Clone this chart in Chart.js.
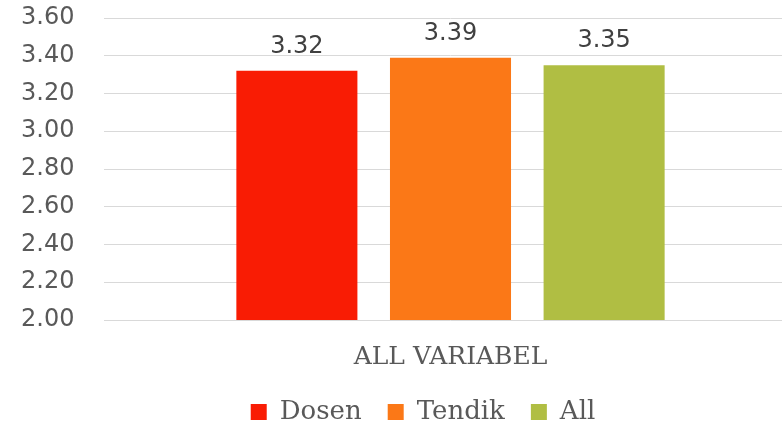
<!DOCTYPE html>
<html>
<head>
<meta charset="utf-8">
<script src="https://cdn.jsdelivr.net/npm/chart.js@4.4.0/dist/chart.umd.min.js"></script>
<style>
  html, body { margin: 0; padding: 0; overflow: hidden; background: #fff; }
  #wrap { width: 797px; height: 435px; }
</style>
</head>
<body>
<div id="wrap"><canvas id="chart"></canvas></div>
<script>
// Category and series values
const categories = ['ALL VARIABEL'];
const seriesNames = ['Dosen', 'Tendik', 'All'];
const dosenValues = [3.32];
const tendikValues = [3.39];
const allValues = [3.35];
const yTickValues = [2.0, 2.2, 2.4, 2.6, 2.8, 3.0, 3.2, 3.4, 3.6];

const seriesColors = ['#F91C04', '#FB7817', '#B0BE43'];

const textColor = '#595959';
const sansFont = '"DejaVu Sans", sans-serif';
const serifFont = '"DejaVu Serif", serif';

// Draw the value above each bar
const valueLabels = {
  id: 'valueLabels',
  afterDatasetsDraw(chart) {
    const ctx = chart.ctx;
    ctx.save();
    ctx.font = '24px ' + sansFont;
    ctx.fillStyle = '#404040';
    ctx.textAlign = 'center';
    ctx.textBaseline = 'alphabetic';
    chart.data.datasets.forEach((ds, i) => {
      chart.getDatasetMeta(i).data.forEach((bar, j) => {
        ctx.fillText(ds.data[j].toFixed(2), bar.x, bar.y - 18);
      });
    });
    ctx.restore();
  }
};

// Nudge the legend a bit to the right, like the original
const legendShift = {
  id: 'legendShift',
  afterLayout(chart) {
    chart.legend.left += 14;
    chart.legend.right += 14;
  }
};

new Chart(document.getElementById('chart'), {
  type: 'bar',
  data: {
    labels: categories,
    datasets: [
      { label: seriesNames[0], data: dosenValues, backgroundColor: seriesColors[0] },
      { label: seriesNames[1], data: tendikValues, backgroundColor: seriesColors[1] },
      { label: seriesNames[2], data: allValues, backgroundColor: seriesColors[2] },
    ],
  },
  options: {
    responsive: true,
    maintainAspectRatio: false,
    animation: false,
    layout: { padding: { top: 18, left: 21 } },
    datasets: {
      bar: { categoryPercentage: 0.665, barPercentage: 0.788 },
    },
    scales: {
      x: {
        grid: { display: false, drawTicks: false },
        border: { display: false },
        ticks: { color: textColor, font: { family: serifFont, size: 25 }, padding: 22 },
        afterFit(scale) { scale.height = 53; },
      },
      y: {
        min: 2,
        max: 3.6,
        grid: { color: '#D9D9D9', lineWidth: 1, drawTicks: false },
        border: { display: false },
        afterBuildTicks(scale) { scale.ticks = yTickValues.map((v) => ({ value: v })); },
        ticks: {
          color: textColor,
          font: { family: sansFont, size: 24 },
          padding: 0,
          crossAlign: 'far',
          callback: (v) => Number(v).toFixed(2),
        },
        afterFit(scale) { scale.width = 83; },
      },
    },
    plugins: {
      legend: {
        position: 'bottom',
        labels: {
          color: textColor,
          font: { family: serifFont, size: 26 },
          boxWidth: 16,
          boxHeight: 16,
          padding: 26,
        },
      },
      tooltip: { enabled: false },
    },
  },
  plugins: [valueLabels, legendShift],
});
</script>
</body>
</html>
